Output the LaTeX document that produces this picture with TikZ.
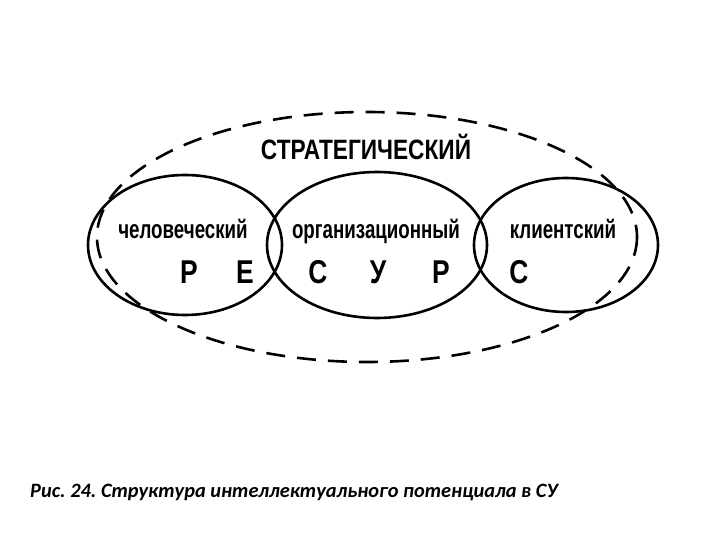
\documentclass[tikz,border=0pt]{standalone}
\usepackage{fontspec}
\setmainfont{Liberation Sans}
\newfontfamily\capfont{Carlito}
\frenchspacing
\begin{document}
\begin{tikzpicture}[x=1pt,y=-1pt,
  ring/.style={draw=black,line width=2.6pt},
  outer/.style={draw=black,line width=2.6pt,dash pattern=on 19pt off 12pt},
  lbl/.style={font=\fontsize{26}{26}\selectfont\bfseries,xscale=0.72,inner sep=0pt,anchor=base},
  head/.style={font=\fontsize{28}{28}\selectfont\bfseries,xscale=0.81,inner sep=0pt,anchor=base},
  big/.style={font=\fontsize{33}{33}\selectfont\bfseries,xscale=0.8,inner sep=0pt,anchor=base}]
\useasboundingbox (0,0) rectangle (720,540);
\draw[outer] (367,237) ellipse [x radius=270, y radius=125];
\draw[ring] (185,245) ellipse [x radius=97, y radius=70];
\draw[ring] (377,245) ellipse [x radius=110, y radius=73];
\draw[ring] (566,245) ellipse [x radius=92, y radius=67];
\node[head] (s) at (366,160) {СТРАТЕГИЧЕСКИЙ};
\node[lbl] (h) at (183,238) {человеческий};
\node[lbl] (o) at (376,238) {организационный};
\node[lbl] (k) at (563,238) {клиентский};
\node[big] (r1) at (189,283) {Р};
\node[big] (r2) at (245,283) {Е};
\node[big] (r3) at (318,283) {С};
\node[big] (r4) at (378,283) {У};
\node[big] (r5) at (441,283) {Р};
\node[big] (r6) at (519,283) {С};
\node[anchor=base west,inner sep=0pt,font=\capfont\fontsize{20.4}{20.4}\selectfont\bfseries\itshape] (c) at (30,497) {Рис. 24. Структура интеллектуального потенциала в СУ};
\end{tikzpicture}
\end{document}
